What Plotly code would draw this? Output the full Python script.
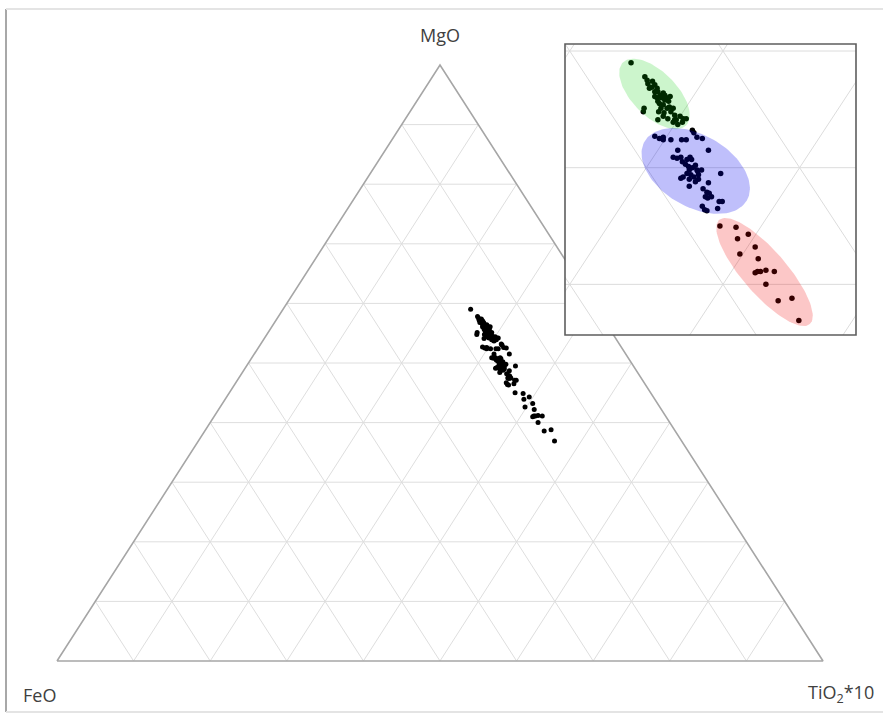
import numpy as np
import plotly.graph_objects as go

W, H = 883, 715

# Normalised oxide proportions (%): MgO + FeO + TiO2*10 = 100
# Group 1 (green field)
mgo_g = [59.0, 57.8, 57.5, 57.2, 56.8, 57.4, 57.1, 56.8, 56.5, 56.1, 56.2, 56.4, 56.0, 55.8, 55.7,
         55.4, 55.7, 55.1, 55.2, 55.1, 55.1, 54.8, 54.8, 54.7, 54.8, 54.5, 54.4, 54.2, 54.2, 54.1,
         53.9, 53.7, 54.2, 54.4, 54.1, 56.1, 56.2, 56.5, 55.5, 56.0, 56.9, 56.0, 55.1, 54.1, 53.9]
feo_g = [16.5, 16.2, 16.2, 16.3, 16.4, 15.9, 15.9, 15.9, 16.0, 16.4, 16.0, 15.7, 16.0, 15.9, 16.4,
         16.2, 15.7, 16.1, 15.9, 16.5, 17.6, 17.8, 16.8, 16.5, 16.0, 15.9, 15.6, 15.5, 15.3, 16.0,
         16.3, 16.1, 16.5, 16.7, 17.2, 15.4, 15.7, 16.2, 16.4, 15.7, 16.2, 16.3, 15.7, 16.1, 15.7]
tio2_g = [24.5, 26.0, 26.3, 26.5, 26.8, 26.7, 27.0, 27.3, 27.5, 27.5, 27.8, 27.9, 28.0, 28.3, 27.9,
          28.4, 28.6, 28.8, 28.9, 28.4, 27.3, 27.4, 28.4, 28.8, 29.2, 29.6, 30.0, 30.3, 30.5, 29.9,
          29.8, 30.2, 29.3, 28.9, 28.7, 28.5, 28.1, 27.3, 28.1, 28.3, 26.9, 27.7, 29.2, 29.8, 30.4]

# Group 2 (blue field)
mgo_b = [53.2, 53.0, 52.7, 52.5, 52.4, 52.6, 52.4, 52.4, 52.4, 52.6, 52.5, 51.5, 51.5, 50.9, 50.8,
         50.9, 50.5, 50.7, 50.9, 50.7, 50.3, 50.1, 49.8, 50.0, 49.8, 49.8, 49.4, 49.2, 49.4, 49.2,
         49.1, 49.0, 48.8, 49.0, 49.5, 48.7, 48.4, 48.2, 47.9, 47.8, 47.5, 47.4, 47.5, 47.1, 47.1,
         46.5, 46.7, 46.4, 46.3, 49.7, 49.5, 50.2]
feo_b = [15.4, 15.4, 18.1, 17.9, 17.7, 17.6, 17.2, 16.5, 16.2, 15.4, 15.1, 15.2, 17.2, 17.8, 17.6,
         17.3, 17.4, 17.0, 16.7, 16.7, 17.3, 17.2, 17.3, 17.0, 16.8, 16.5, 17.4, 17.3, 16.9, 18.0,
         18.2, 17.7, 17.4, 17.1, 15.4, 16.6, 18.0, 17.2, 17.1, 17.0, 17.4, 17.3, 17.0, 16.7, 16.5,
         17.1, 18.0, 18.0, 17.9, 16.8, 17.6, 16.7]
tio2_b = [31.4, 31.6, 29.2, 29.6, 29.9, 29.8, 30.4, 31.1, 31.4, 32.0, 32.4, 33.3, 31.3, 31.3, 31.6,
          31.8, 32.1, 32.3, 32.4, 32.6, 32.4, 32.7, 32.9, 33.0, 33.4, 33.7, 33.2, 33.5, 33.7, 32.8,
          32.7, 33.3, 33.8, 33.9, 35.1, 34.7, 33.6, 34.6, 35.0, 35.2, 35.1, 35.3, 35.5, 36.2, 36.4,
          36.4, 35.3, 35.6, 35.8, 33.5, 32.9, 33.1]

# Group 3 (red field)
mgo_r = [45.0, 44.9, 44.3, 43.9, 43.2, 42.6, 42.2, 41.0, 41.1, 41.1, 41.2, 41.1, 40.0, 38.6, 38.8, 36.9]
feo_r = [17.7, 16.7, 16.2, 17.1, 16.3, 17.6, 16.6, 17.4, 17.2, 17.0, 16.6, 16.1, 17.2, 17.1, 16.1, 16.6]
tio2_r = [37.3, 38.4, 39.5, 39.0, 40.5, 39.8, 41.2, 41.6, 41.7, 41.9, 42.2, 42.8, 42.8, 44.3, 45.1, 46.5]

apex_labels = ["MgO", "FeO", "TiO<sub>2</sub>*10"]
grid_levels = [0.1, 0.2, 0.3, 0.4, 0.5, 0.6, 0.7, 0.8, 0.9]

# Field ellipses in plot coordinates: centre, major and minor half-axis vectors
ell_centre = [(0.5553, 0.5632), (0.5822, 0.4972), (0.6271, 0.4106)]
ell_major = [(0.02059, -0.02703), (0.03335, -0.02528), (0.02955, -0.04462)]
ell_minor = [(-0.01029, -0.01351), (-0.01175, -0.02672), (-0.01084, -0.01237)]
ell_colors = ["rgba(0,205,0,0.2)", "rgba(0,0,240,0.25)", "rgba(240,0,0,0.22)"]


def to_xy(mgo, feo, tio2):
    """Ternary (MgO top, FeO left, TiO2 right) -> cartesian plot coords."""
    m = np.asarray(mgo, float)
    f = np.asarray(feo, float)
    t = np.asarray(tio2, float)
    s = m + f + t
    a, c = m / s, t / s
    return c + a / 2, a


def grid_xy():
    xs, ys = [], []
    for k in grid_levels:
        segs = [((k, 1 - k, 0), (k, 0, 1 - k)),        # constant MgO
                ((0, 1 - k, k), (1 - k, 0, k)),        # constant TiO2
                ((0, k, 1 - k), (1 - k, k, 0))]        # constant FeO
        for p, q in segs:
            x0, y0 = to_xy(*p)
            x1, y1 = to_xy(*q)
            xs += [float(x0), float(x1), None]
            ys += [float(y0), float(y1), None]
    return xs, ys


fig = go.Figure()

gx, gy = grid_xy()
ex, ey = to_xy([0, 0, 1, 0], [1, 0, 0, 1], [0, 1, 0, 0])

# ---- main ternary panel ----
fig.add_trace(go.Scatter(x=gx, y=gy, mode="lines", line=dict(color="#dedede", width=1),
                         hoverinfo="skip", xaxis="x", yaxis="y"))
fig.add_trace(go.Scatter(x=ex, y=ey, mode="lines", line=dict(color="#a6a6a6", width=1.6),
                         hoverinfo="skip", xaxis="x", yaxis="y"))

groups = [(mgo_g, feo_g, tio2_g), (mgo_b, feo_b, tio2_b), (mgo_r, feo_r, tio2_r)]
for m, f, t in groups:
    px, py = to_xy(m, f, t)
    fig.add_trace(go.Scatter(x=px, y=py, mode="markers",
                             marker=dict(color="black", size=5, line=dict(width=0)),
                             xaxis="x", yaxis="y"))

# ---- enlarged inset ----
fig.add_trace(go.Scatter(x=gx, y=gy, mode="lines", line=dict(color="#dcdcdc", width=1),
                         hoverinfo="skip", xaxis="x2", yaxis="y2"))
for m, f, t in groups:
    px, py = to_xy(m, f, t)
    fig.add_trace(go.Scatter(x=px, y=py, mode="markers",
                             marker=dict(color="black", size=5.5, line=dict(width=0)),
                             xaxis="x2", yaxis="y2"))

theta = np.linspace(0, 2 * np.pi, 120)
for (cx, cy), (mx, my), (nx, ny), col in zip(ell_centre, ell_major, ell_minor, ell_colors):
    fig.add_trace(go.Scatter(x=cx + mx * np.cos(theta) + nx * np.sin(theta),
                             y=cy + my * np.cos(theta) + ny * np.sin(theta),
                             mode="lines", fill="toself", fillcolor=col,
                             line=dict(width=0), hoverinfo="skip",
                             xaxis="x2", yaxis="y2"))

# Pixel placement of the triangle (corners) and the inset box
pad = 0.02
tri_left, tri_right, tri_top, tri_bottom = 57, 823, 65, 661
sx, sy = tri_right - tri_left, tri_bottom - tri_top
x_dom = [(tri_left - pad * sx) / W, (tri_right + pad * sx) / W]
y_dom = [(H - tri_bottom - pad * sy) / H, (H - tri_top + pad * sy) / H]

inset_px = (565, 856, 44, 335)
inset_xr = [0.4969, 0.6868]
inset_yr = [0.3566, 0.6060]

axis_off = dict(visible=False, showgrid=False, zeroline=False, fixedrange=True)

fig.update_layout(
    width=W, height=H,
    margin=dict(l=0, r=0, t=0, b=0),
    paper_bgcolor="white", plot_bgcolor="white",
    showlegend=False,
    xaxis=dict(domain=x_dom, range=[-pad, 1 + pad], **axis_off),
    yaxis=dict(domain=y_dom, range=[-pad, 1 + pad], **axis_off),
    xaxis2=dict(domain=[inset_px[0] / W, inset_px[1] / W], range=inset_xr, anchor="y2", **axis_off),
    yaxis2=dict(domain=[(H - inset_px[3]) / H, (H - inset_px[2]) / H], range=inset_yr, anchor="x2", **axis_off),
    font=dict(family="Open Sans, Noto Sans, sans-serif", color="#404040"),
)

# inset frame
fig.add_shape(type="rect", xref="x2 domain", yref="y2 domain", x0=0, x1=1, y0=0, y1=1,
              line=dict(color="#5e5e5e", width=1.6))

# outer page frame
fig.add_shape(type="line", xref="paper", yref="paper", x0=6 / W, x1=6 / W,
              y0=(H - 9) / H, y1=(H - 712) / H, line=dict(color="#a8a8a8", width=2))
fig.add_shape(type="line", xref="paper", yref="paper", x0=6 / W, x1=1,
              y0=(H - 9) / H, y1=(H - 9) / H, line=dict(color="#e4e4e4", width=2))
fig.add_shape(type="line", xref="paper", yref="paper", x0=6 / W, x1=1,
              y0=(H - 712) / H, y1=(H - 712) / H, line=dict(color="#e4e4e4", width=2))

# apex labels
fig.add_annotation(text=apex_labels[0], xref="paper", yref="paper", x=440 / W, y=1 - 35 / H,
                   xanchor="center", yanchor="middle", showarrow=False, font=dict(size=18))
fig.add_annotation(text=apex_labels[1], xref="paper", yref="paper", x=21 / W, y=1 - 695 / H,
                   xanchor="left", yanchor="middle", showarrow=False, font=dict(size=18))
fig.add_annotation(text=apex_labels[2], xref="paper", yref="paper", x=876 / W, y=1 - 693 / H,
                   xanchor="right", yanchor="middle", showarrow=False, font=dict(size=18))

fig.write_html("out.html")
